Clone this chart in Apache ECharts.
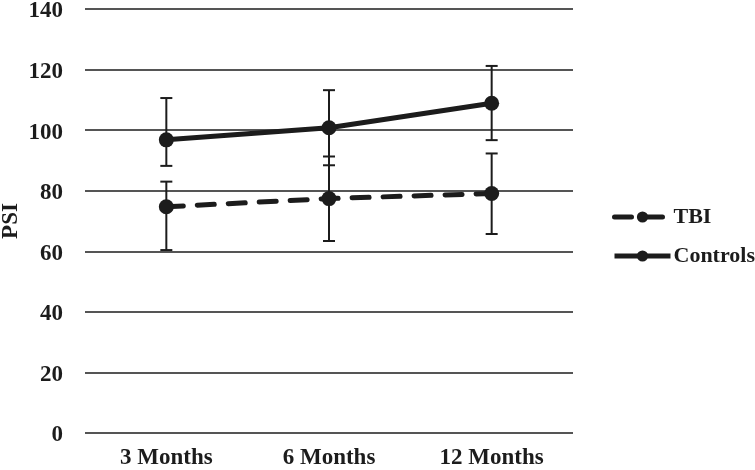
<!DOCTYPE html>
<html>
<head>
<meta charset="utf-8">
<script src="https://cdn.jsdelivr.net/npm/echarts@6/dist/echarts.min.js"></script>
<style>
  html, body { margin: 0; padding: 0; background: #fff; }
  #chart { width: 755px; height: 470px; }
</style>
</head>
<body>
<div id="chart"></div>
<script>
// data
var months = ['3 Months', '6 Months', '12 Months'];
var tbiMean = [74.7, 77.4, 79.1];
var tbiLow = [60.4, 63.4, 65.7];
var tbiHigh = [83.0, 91.3, 92.3];
var ctrlMean = [96.8, 100.8, 108.9];
var ctrlLow = [88.2, 88.4, 96.7];
var ctrlHigh = [110.6, 113.2, 121.2];
var yTicks = [0, 140, 20]; // min, max, step

var ink = '#1c1c1c';
var font = 'Liberation Serif';

function errBars(low, high) {
  var d = [];
  for (var i = 0; i < low.length; i++) d.push([i, low[i], high[i]]);
  return d;
}

function renderErr(params, api) {
  var x = api.value(0);
  var lo = api.coord([x, api.value(1)]);
  var hi = api.coord([x, api.value(2)]);
  var cap = 6;
  var st = { stroke: ink, lineWidth: 2 };
  return {
    type: 'group',
    children: [
      { type: 'line', shape: { x1: lo[0], y1: lo[1], x2: hi[0], y2: hi[1] }, style: st },
      { type: 'line', shape: { x1: lo[0] - cap, y1: lo[1], x2: lo[0] + cap, y2: lo[1] }, style: st },
      { type: 'line', shape: { x1: hi[0] - cap, y1: hi[1], x2: hi[0] + cap, y2: hi[1] }, style: st }
    ]
  };
}

var chart = echarts.init(document.getElementById('chart'));
chart.setOption({
  animation: false,
  backgroundColor: '#fff',
  grid: { left: 85, right: 182, top: 9, bottom: 37, outerBoundsMode: 'none', containLabel: false },
  legend: {
    orient: 'vertical',
    left: 607,
    top: 201,
    itemGap: 17,
    itemWidth: 56,
    itemHeight: 14,
    data: ['TBI', 'Controls'],
    lineStyle: { width: 5 },
    textStyle: { fontFamily: font, fontWeight: 'bold', fontSize: 22, color: ink, padding: [0, 0, 0, -2] }
  },
  xAxis: {
    type: 'category',
    data: months,
    axisLine: { show: false },
    axisTick: { show: false },
    axisLabel: { margin: 14, fontFamily: font, fontWeight: 'bold', fontSize: 23, color: ink }
  },
  yAxis: {
    type: 'value',
    min: yTicks[0],
    max: yTicks[1],
    interval: yTicks[2],
    name: 'PSI',
    nameLocation: 'middle',
    nameGap: 62,
    nameMoveOverlap: false,
    nameTextStyle: { fontFamily: font, fontWeight: 'bold', fontSize: 23, color: ink },
    axisLine: { show: false },
    axisTick: { show: false },
    axisLabel: {
      margin: 22,
      formatter: '{v|{value}}',
      rich: { v: { padding: [5, 0, 0, 0], fontFamily: font, fontWeight: 'bold', fontSize: 23, color: ink } },
      fontFamily: font, fontWeight: 'bold', fontSize: 23, color: ink
    },
    splitLine: { lineStyle: { color: ink, width: 1.6 } }
  },
  series: [
    {
      name: 'TBI',
      type: 'line',
      data: tbiMean,
      symbol: 'circle',
      symbolSize: 15,
      itemStyle: { color: ink },
      lineStyle: { color: ink, width: 5, type: [17, 14], cap: 'round' },
      z: 3
    },
    {
      name: 'Controls',
      type: 'line',
      data: ctrlMean,
      symbol: 'circle',
      symbolSize: 15,
      itemStyle: { color: ink },
      lineStyle: { color: ink, width: 5 },
      z: 3
    },
    {
      type: 'custom',
      data: errBars(tbiLow, tbiHigh),
      renderItem: renderErr,
      encode: { x: 0, y: [1, 2] },
      z: 2,
      silent: true
    },
    {
      type: 'custom',
      data: errBars(ctrlLow, ctrlHigh),
      renderItem: renderErr,
      encode: { x: 0, y: [1, 2] },
      z: 2,
      silent: true
    }
  ]
});
</script>
</body>
</html>
